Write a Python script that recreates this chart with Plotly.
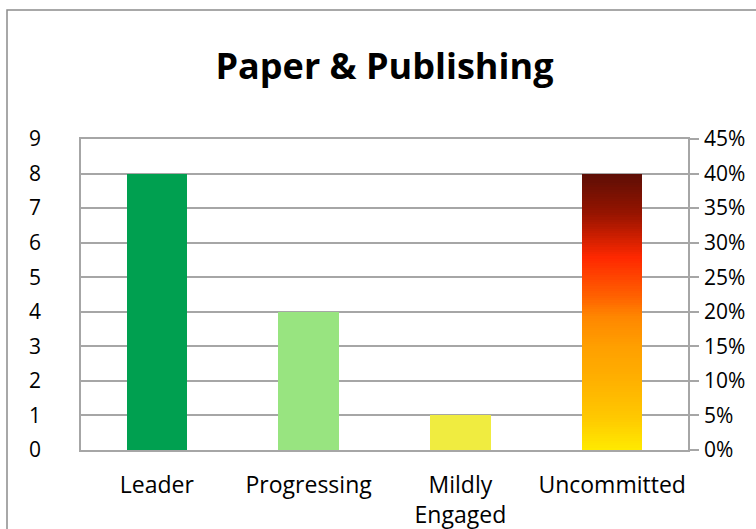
import plotly.graph_objects as go
from plotly.colors import sample_colorscale

# ---- data ----
categories = ["Leader", "Progressing", "Mildly<br>Engaged", "Uncommitted"]
values = [8, 4, 1, 8]
solid_colors = ["#00A050", "#98E480", "#F0EC40"]
left_ticks = list(range(0, 10))
right_ticks = [i * 0.05 for i in range(10)]
right_tick_labels = ["0%", "5%", "10%", "15%", "20%", "25%", "30%", "35%", "40%", "45%"]
gradient_scale = [
    [0.0, "rgb(255,234,0)"],
    [0.12, "rgb(255,200,0)"],
    [0.26, "rgb(255,175,0)"],
    [0.37, "rgb(255,160,0)"],
    [0.48, "rgb(255,135,0)"],
    [0.56, "rgb(255,95,0)"],
    [0.695, "rgb(255,40,0)"],
    [0.855, "rgb(150,20,0)"],
    [1.0, "rgb(92,14,5)"],
]

FONT = "Open Sans"
BAR_W = 0.40
GRID = "#A6A6A6"

fig = go.Figure()

# solid bars (first three categories)
fig.add_trace(go.Bar(
    x=categories[:3], y=values[:3], width=BAR_W,
    marker=dict(color=solid_colors, line=dict(width=0)),
    showlegend=False, hoverinfo="x+y",
))

# gradient bar for last category, built from stacked thin segments
N = 120
v = values[3]
seg = v / N
fracs = [(i + 0.5) / N for i in range(N)]
seg_colors = sample_colorscale(gradient_scale, fracs)
fig.add_trace(go.Bar(
    x=[categories[3]] * N, y=[seg * 1.02] * N, base=[i * seg for i in range(N)],
    width=BAR_W, marker=dict(color=seg_colors, line=dict(width=0)),
    showlegend=False, hoverinfo="skip",
))

# invisible trace to anchor right axis
fig.add_trace(go.Scatter(
    x=categories, y=[0] * 4, yaxis="y2", mode="lines",
    line=dict(width=0), opacity=0, showlegend=False, hoverinfo="skip",
))

fig.update_layout(
    width=756, height=529,
    margin=dict(l=81, r=68, t=139, b=79, autoexpand=False),
    paper_bgcolor="white", plot_bgcolor="white",
    barmode="overlay", bargap=0,
    font=dict(family=FONT, size=20, color="black"),
    title=dict(
        text="<b>Paper &amp; Publishing</b>",
        font=dict(family=FONT, size=36, color="black"),
        x=0.5, xref="paper", xanchor="center",
        y=(529 - 66) / 529, yref="container", yanchor="middle",
    ),
    xaxis=dict(
        type="category", categoryarray=categories, automargin=False,
        showline=True, linecolor=GRID, linewidth=1.5, mirror=True,
        showgrid=False, ticks="", tickfont=dict(size=23),
        ticklabelstandoff=14,
    ),
    yaxis=dict(
        range=[0, 9], tickvals=left_ticks, automargin=False,
        showline=True, linecolor=GRID, linewidth=1.5,
        showgrid=True, gridcolor=GRID, gridwidth=1.5,
        zeroline=False, ticks="", tickfont=dict(size=21),
        ticklabelstandoff=34,
    ),
    yaxis2=dict(
        range=[0, 0.45], tickvals=right_ticks, ticktext=right_tick_labels,
        overlaying="y", side="right", automargin=False,
        showline=True, linecolor=GRID, linewidth=1.5,
        showgrid=False, zeroline=False,
        ticks="outside", ticklen=9, tickcolor=GRID, tickwidth=1.5,
        tickfont=dict(size=21), ticklabelstandoff=1,
    ),
    shapes=[dict(
        type="rect", xref="paper", yref="paper",
        x0=(7 - 81) / 607, x1=1.3, y0=-0.5, y1=(450 - 10) / 311,
        line=dict(color="#8C8C8C", width=1.5), fillcolor="rgba(0,0,0,0)",
        layer="below",
    )],
)

fig.write_html("out.html")
